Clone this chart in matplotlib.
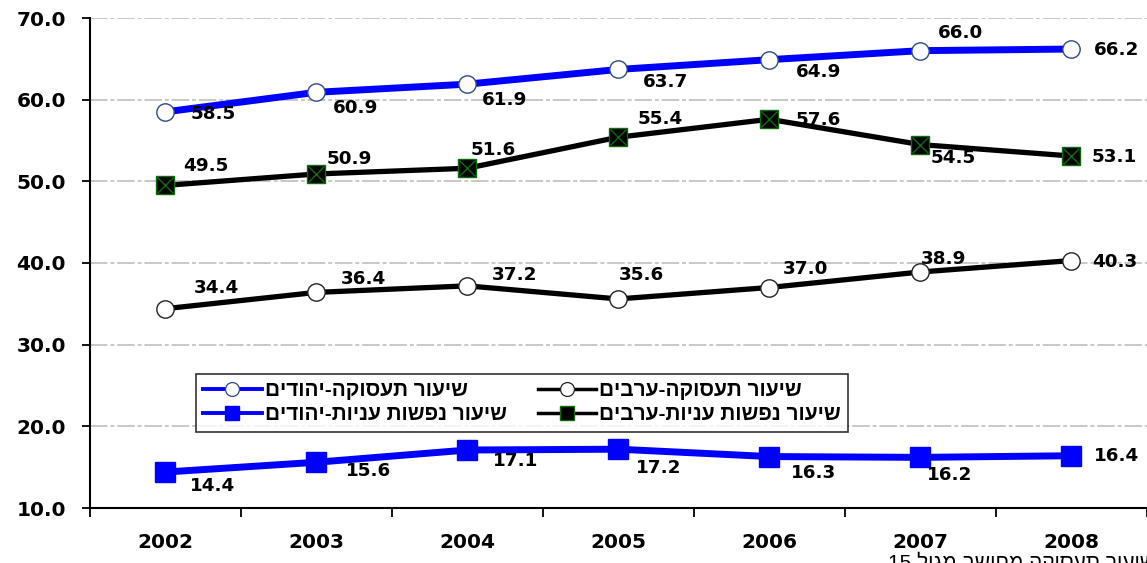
import matplotlib
matplotlib.use("Agg")
import matplotlib.pyplot as plt
from matplotlib.lines import Line2D

# ---- data ----
years = ["2002", "2003", "2004", "2005", "2006", "2007", "2008"]
jews_employment = [58.5, 60.9, 61.9, 63.7, 64.9, 66.0, 66.2]
arabs_employment = [34.4, 36.4, 37.2, 35.6, 37.0, 38.9, 40.3]
jews_poverty = [14.4, 15.6, 17.1, 17.2, 16.3, 16.2, 16.4]
arabs_poverty = [49.5, 50.9, 51.6, 55.4, 57.6, 54.5, 53.1]

label_jews_emp = "שיעור תעסוקה-יהודים"
label_arabs_emp = "שיעור תעסוקה-ערבים"
label_jews_pov = "שיעור נפשות עניות-יהודים"
label_arabs_pov = "שיעור נפשות עניות-ערבים"
footnote_words = ["שיעור", "תעסוקה", "מחושב", "מגיל", "15"]

# label offsets in pixels (dx right, dy down)
off_jews_emp = [(48, 2), (39, 16), (37, 16), (47, 13), (49, 12), (40, -18), (45, 1)]
off_arabs_pov = [(41, -19), (33, -15), (26, -18), (42, -18), (49, 1), (33, 13), (43, 1)]
off_arabs_emp = [(51, -21), (47, -13), (47, -11), (23, -24), (36, -18), (23, -13), (43, 1)]
off_jews_pov = [(48, 14), (52, 9), (48, 11), (40, 19), (44, 16), (29, 18), (45, 0)]


def rtl(s):
    return s[::-1]


def rtl_words(words):
    out = []
    for w in reversed(words):
        out.append(w if w.isdigit() else w[::-1])
    return " ".join(out)


W, H = 1147, 563
fig = plt.figure(figsize=(W / 100, H / 100), dpi=100)
ax = fig.add_axes([89.5 / W, 1 - 508 / H, 1 - 89.5 / W, (508 - 18) / H])

x = list(range(len(years)))
BLUE = "#0000FF"
GREEN = "#0a6b0a"

ax.plot(x, jews_employment, color=BLUE, lw=5, marker="o", ms=12.5,
        mfc="white", mec="#2a4a8a", mew=1.0, zorder=4)
ax.plot(x, arabs_employment, color="black", lw=3.8, marker="o", ms=12.5,
        mfc="white", mec="#222222", mew=1.0, zorder=4)
ax.plot(x, jews_poverty, color=BLUE, lw=5, marker="s", ms=14,
        mfc=BLUE, mec=BLUE, zorder=4)
ax.plot(x, arabs_poverty, color="black", lw=3.8, marker="s", ms=13,
        mfc="black", mec=GREEN, mew=1.0, zorder=4)
ax.plot(x, arabs_poverty, ls="none", marker="x", ms=12, mec=GREEN, mew=1.0, zorder=5)

lab_font = dict(family="DejaVu Sans", weight="bold", size=13.2, color="black")
for vals, offs in [(jews_employment, off_jews_emp), (arabs_poverty, off_arabs_pov),
                   (arabs_employment, off_arabs_emp), (jews_poverty, off_jews_pov)]:
    for xi, v, (dx, dy) in zip(x, vals, offs):
        ax.annotate(f"{v:.1f}", (xi, v), xytext=(dx, -dy), textcoords="offset pixels",
                    ha="center", va="center", zorder=6, **lab_font)

ax.set_xlim(-0.5, len(years) - 0.5)
ax.set_ylim(10, 70)
ax.set_yticks(range(10, 71, 10))
ax.set_yticklabels([f"{t:.1f}" for t in range(10, 71, 10)],
                   fontdict=dict(family="DejaVu Sans", weight="bold", size=14.5))
ax.set_xticks(x)
ax.set_xticklabels(years, fontdict=dict(family="DejaVu Sans", weight="bold", size=14.5))
ax.set_xticks([i - 0.5 for i in range(len(years) + 1)], minor=True)
ax.tick_params(axis="x", which="major", length=0, pad=18)
ax.tick_params(axis="x", which="minor", length=6.5, width=1.3, direction="out")
ax.tick_params(axis="y", which="major", length=6, width=1.3, pad=11, direction="out")

ax.grid(axis="y", color="#c8c8c8", lw=1.4, dashes=(9, 1.5, 2, 1.5))
ax.set_axisbelow(True)
for s in ["top", "right"]:
    ax.spines[s].set_visible(False)
for s in ["left", "bottom"]:
    ax.spines[s].set_linewidth(1.5)
    ax.spines[s].set_color("black")

handles = [
    Line2D([], [], color=BLUE, lw=2.8, marker="o", ms=10, mfc="white", mec="#2a4a8a", mew=0.9),
    Line2D([], [], color=BLUE, lw=2.8, marker="s", ms=10, mfc=BLUE, mec=BLUE),
    Line2D([], [], color="black", lw=2.5, marker="o", ms=10, mfc="white", mec="#222222", mew=0.9),
    Line2D([], [], color="black", lw=2.5, marker="s", ms=9.5, mfc="black", mec=GREEN),
]
labels = [rtl(label_jews_emp), rtl(label_jews_pov), rtl(label_arabs_emp), rtl(label_arabs_pov)]
leg = fig.legend(handles, labels, loc="upper left", bbox_to_anchor=(196 / W, 1 - 374 / H),
                 ncol=2, frameon=True, fancybox=False, handlelength=2.8, handletextpad=0.15,
                 columnspacing=1.5, borderpad=0.35, labelspacing=0.25, borderaxespad=0,
                 prop=dict(family=["Liberation Sans", "DejaVu Sans"], weight="bold", size=15))
leg.get_frame().set_edgecolor("black")
leg.get_frame().set_linewidth(1.2)
leg.set_zorder(7)

fig.text(888 / W, 1 - 552 / H, rtl_words(footnote_words), ha="left", va="top",
         fontsize=15, family=["Liberation Sans", "DejaVu Sans"], color="black")

fig.savefig("out.png", dpi=100)
